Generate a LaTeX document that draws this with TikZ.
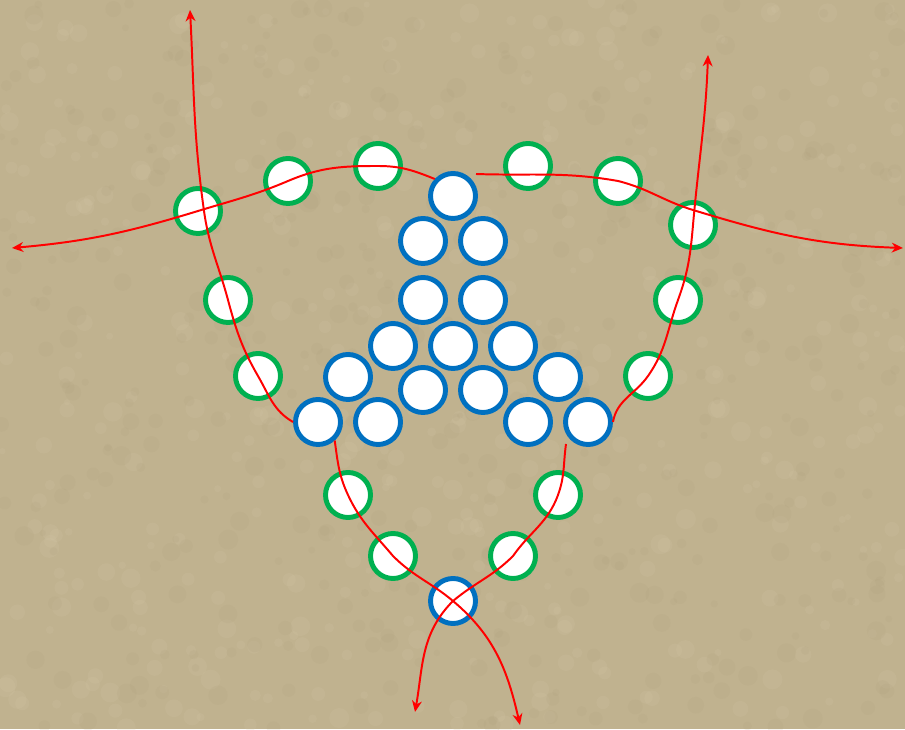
\documentclass[tikz,border=0pt]{standalone}
\usetikzlibrary{arrows.meta,calc}
\definecolor{BallBlue} {HTML}{0070C0}
\definecolor{BallGreen}{HTML}{00B050}
\definecolor{PathRed}  {HTML}{FF0000}
\definecolor{Sand}     {RGB}{192,178,143}
\definecolor{SandLt}   {RGB}{212,200,168}
\definecolor{SandDk}   {RGB}{170,155,120}
\tikzset{
  ball/.style={circle,fill=white,line width=3.5pt,minimum size=1.125cm,inner sep=0pt},
  blueball/.style={ball,draw=BallBlue},
  greenball/.style={ball,draw=BallGreen},
  route/.style={PathRed,line width=1.4pt,-{Stealth[length=8pt,width=7pt,inset=2.5pt]}}
}
\begin{document}
\begin{tikzpicture}[x=0.025cm,y=0.025cm]
    \useasboundingbox (0,0) rectangle (905,729);
    % sand background
    \fill[Sand] (0,0) rectangle (905,729);
    \begin{scope}
      \clip (0,0) rectangle (905,729);
      \pgfmathsetseed{42}
      \foreach \k in {1,...,450}{
        \pgfmathsetmacro{\px}{905*rnd}
        \pgfmathsetmacro{\py}{729*rnd}
        \pgfmathsetmacro{\pr}{3+7*rnd}
        \fill[SandLt,opacity=0.18] (\px,\py) circle[radius=\pr];
      }
      \foreach \k in {1,...,450}{
        \pgfmathsetmacro{\px}{905*rnd}
        \pgfmathsetmacro{\py}{729*rnd}
        \pgfmathsetmacro{\pr}{3+7*rnd}
        \fill[SandDk,opacity=0.12] (\px,\py) circle[radius=\pr];
      }
    \end{scope}
    % blue balls
    \foreach \n/\x/\y in {1/453/533, 2/423/488, 3/483/488, 4/423/429, 5/483/429,
      6/393/383, 7/453/383, 8/513/383, 9/348/352, 10/423/339, 11/483/339, 12/558/352,
      13/318/307, 14/378/307, 15/528/307, 16/588/307, 17/453/128}
      \node[blueball] (b\n) at (\x,\y) {};
    % green balls
    \foreach \n/\x/\y in {1/378/563, 2/288/548, 3/198/518, 4/228/429, 5/258/353,
      6/528/563, 7/618/548, 8/693/504, 9/678/429, 10/648/353,
      11/348/234, 12/393/173, 13/558/234, 14/513/173}
      \node[greenball] (g\n) at (\x,\y) {};
    % free ends
    \coordinate (westend) at (12,481);
    \coordinate (eastend) at (903,481);
    \coordinate (nwend) at (190,719);
    \coordinate (neend) at (708,674);
    \coordinate (swend) at (415,17);
    \coordinate (seend) at (520,4);
    \coordinate (topgap) at (476,555);
    \coordinate (lowgap) at (566,285);
    % red routes
    \draw[route] (b1.137) to[out=158,in=0] (g1.center) to[out=180,in=23] (g2.center)
      to[out=203,in=17] (g3.center) to[out=197,in=5] (westend);
    \draw[route] (topgap) to[out=-2,in=170] (g7.center) to[out=-14,in=163] ($(g8)+(0,15)$)
      to[out=-17,in=178] (eastend);
    \draw[route] (b13.west) to[out=150,in=-60] (g5.center) to[out=120,in=-75] (g4.center)
      to[out=105,in=-82] ($(g3)+(6,0)$) to[out=98,in=-87] (nwend);
    \draw[route] (b13.-48) to[out=-82,in=115] (g11.center) to[out=-65,in=130] (g12.center)
      to[out=-45,in=140] (b17.center) to[out=-40,in=103] (seend);
    \draw[route] (lowgap) to[out=-98,in=70] (g13.center) to[out=-110,in=55] (g14.center)
      to[out=-135,in=40] (b17.center) to[out=-135,in=80] (swend);
    \draw[route] (b16.east) to[out=80,in=235] (g10.center) to[out=55,in=250] (g9.center)
      to[out=70,in=265] (g8.center) to[out=85,in=268] (neend);
\end{tikzpicture}
\end{document}
